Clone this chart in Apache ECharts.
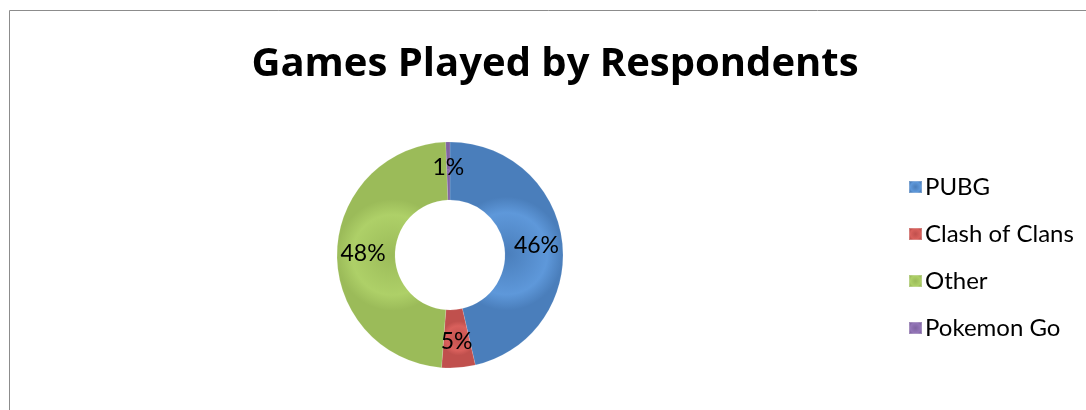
<!DOCTYPE html>
<html>
<head>
<meta charset="utf-8">
<script src="https://cdn.jsdelivr.net/npm/echarts@6/dist/echarts.min.js"></script>
<style>
html,body{margin:0;padding:0;background:#fff;}
#chart{width:1086px;height:410px;}
</style>
</head>
<body>
<div id="chart"></div>
<script>
var titleText = 'Games Played by Respondents';
var categories = ['PUBG', 'Clash of Clans', 'Other', 'Pokemon Go'];
var values = [46.4, 4.8, 48.2, 0.6];
var colors = ['#4a7ebb', '#c0504d', '#9bbb59', '#8064a2'];
var lightColors = ['#5e98da', '#d9605c', '#aed068', '#9476b8'];

function shade(i) {
  return new echarts.graphic.RadialGradient(0.5, 0.5, 0.5, [
    {offset: 0, color: colors[i]},
    {offset: 0.72, color: lightColors[i]},
    {offset: 1, color: colors[i]}
  ]);
}

var data = categories.map(function (c, i) {
  return {name: c, value: values[i], itemStyle: {color: shade(i)}};
});

var chart = echarts.init(document.getElementById('chart'), null, {renderer: 'canvas'});
chart.setOption({
  animation: false,
  color: colors,
  title: {
    text: titleText,
    left: 550,
    top: 40,
    textAlign: 'center',
    textStyle: {fontFamily: 'Open Sans', fontWeight: 'bold', fontSize: 40, color: '#000'}
  },
  graphic: [{
    type: 'polyline',
    shape: {points: [[9.5, 420], [9.5, 10.5], [1100, 10.5]]},
    style: {stroke: '#8c8c8c', lineWidth: 1, fill: null}
  }],
  legend: {
    orient: 'vertical',
    left: 903,
    top: 170,
    itemWidth: 13,
    itemHeight: 12,
    itemGap: 23,
    icon: 'rect',
    textStyle: {fontFamily: 'Lato', fontSize: 24, color: '#000', padding: [0, 0, 0, -2]},
    data: categories
  },
  series: [{
    type: 'pie',
    center: [450, 255],
    radius: [55, 113],
    startAngle: 90,
    clockwise: true,
    percentPrecision: 0,
    label: {
      position: 'inside',
      formatter: '{d}%',
      fontFamily: 'Lato',
      fontSize: 23,
      color: '#000'
    },
    labelLine: {show: false},
    itemStyle: {borderColor: 'rgba(255,255,255,0.25)', borderWidth: 0.5},
    emphasis: {disabled: true},
    data: data
  }]
});
</script>
</body>
</html>
